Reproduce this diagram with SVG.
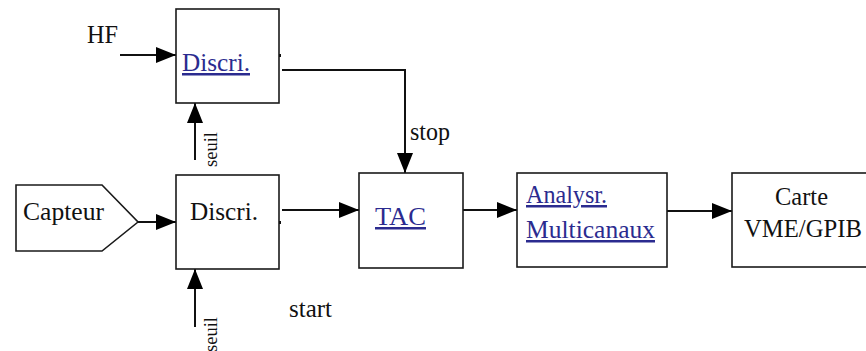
<svg xmlns="http://www.w3.org/2000/svg" width="866" height="351" viewBox="0 0 866 351">
<style>
  .box{fill:#fff;stroke:#1a1a1a;stroke-width:1.6}
  .t{fill:#111}
  .lk{fill:#2b2b8f;text-decoration:underline}
  .c{fill:none;stroke:#111;stroke-width:2}
</style>
<defs>
  <marker id="ah" markerUnits="userSpaceOnUse" markerWidth="20" markerHeight="16" refX="20" refY="8" orient="auto">
    <path d="M0,0 L20,8 L0,16 z" fill="#000"/>
  </marker>
</defs>
<rect width="866" height="351" fill="#fff"/>
<g id="connectors">
  <line class="c" x1="120" y1="55" x2="176" y2="55" marker-end="url(#ah)"/>
  <line class="c" x1="195" y1="160" x2="195" y2="103" marker-end="url(#ah)"/>
  <line class="c" x1="195" y1="327" x2="195" y2="269" marker-end="url(#ah)"/>
  <line class="c" x1="138" y1="222" x2="176" y2="222" marker-end="url(#ah)"/>
  <polyline class="c" points="282,70 405,70 405,173" marker-end="url(#ah)"/>
  <line class="c" x1="282" y1="210" x2="359" y2="210" marker-end="url(#ah)"/>
  <line class="c" x1="463" y1="210" x2="517" y2="210" marker-end="url(#ah)"/>
  <line class="c" x1="667" y1="211" x2="732" y2="211" marker-end="url(#ah)"/>
  <g font-family="Liberation Serif" font-size="25">
    <text class="t" x="410" y="140" textLength="40" lengthAdjust="spacingAndGlyphs">stop</text>
    <text class="t" x="289" y="317" textLength="43" lengthAdjust="spacingAndGlyphs">start</text>
    <text class="t" x="87" y="43" textLength="31" lengthAdjust="spacingAndGlyphs">HF</text>
  </g>
  <g font-family="Liberation Serif" font-size="18.5">
    <text class="t" transform="translate(217,167) rotate(-90)" textLength="35" lengthAdjust="spacingAndGlyphs">seuil</text>
    <text class="t" transform="translate(217,352) rotate(-90)" textLength="35" lengthAdjust="spacingAndGlyphs">seuil</text>
  </g>
</g>
<g id="discri-top" font-family="Liberation Serif" font-size="25">
  <rect class="box" x="176" y="9" width="103" height="94"/>
  <rect x="279" y="54" width="2" height="3" fill="#111"/>
  <text class="lk" x="182" y="71" textLength="68" lengthAdjust="spacingAndGlyphs">Discri.</text>
</g>
<g id="capteur" font-family="Liberation Serif" font-size="25">
  <polygon class="box" points="16,185 102,185 138,222 102,251 16,251"/>
  <text class="t" x="23" y="220" textLength="81" lengthAdjust="spacingAndGlyphs">Capteur</text>
</g>
<g id="discri-bottom" font-family="Liberation Serif" font-size="25">
  <rect class="box" x="176" y="175" width="103" height="94"/>
  <rect x="279" y="221" width="2" height="3" fill="#111"/>
  <text class="t" x="190" y="220" textLength="68" lengthAdjust="spacingAndGlyphs">Discri.</text>
</g>
<g id="tac" font-family="Liberation Serif" font-size="25">
  <rect class="box" x="359" y="173" width="104" height="95"/>
  <text class="lk" x="375" y="225" textLength="51" lengthAdjust="spacingAndGlyphs">TAC</text>
</g>
<g id="analysr" font-family="Liberation Serif" font-size="25">
  <rect class="box" x="517" y="173" width="150" height="94"/>
  <text class="lk" x="526" y="203" textLength="81" lengthAdjust="spacingAndGlyphs">Analysr.</text>
  <text class="lk" x="526" y="238" textLength="129" lengthAdjust="spacingAndGlyphs">Multicanaux</text>
</g>
<g id="carte" font-family="Liberation Serif" font-size="25">
  <rect class="box" x="732" y="173" width="140" height="94"/>
  <text class="t" x="775" y="205" textLength="53" lengthAdjust="spacingAndGlyphs">Carte</text>
  <text class="t" x="744" y="237" textLength="118" lengthAdjust="spacingAndGlyphs">VME/GPIB</text>
</g>
</svg>
